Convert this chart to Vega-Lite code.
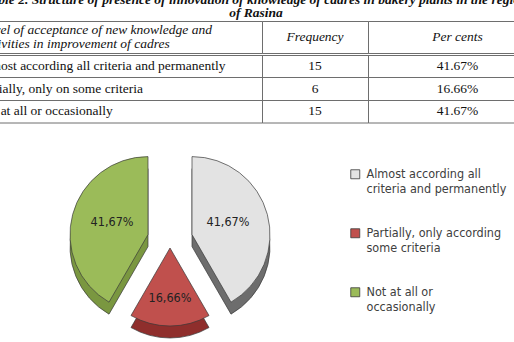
{
  "$schema": "https://vega.github.io/schema/vega-lite/v6.json",
  "padding": {"left": -28, "top": -7, "right": 0, "bottom": 0},
  "background": "white",
  "title": {
    "text": ["Table 2. Structure of presence of innovation of knowledge of cadres in bakery plants in the region", "of Rasina"],
    "font": "Liberation Serif", "fontSize": 13.5, "fontStyle": "italic", "fontWeight": "bold",
    "color": "#111111", "lineHeight": 13, "offset": 1, "anchor": "middle", "dx": -4
  },
  "config": {
    "view": {"stroke": "#6e6e6e", "strokeWidth": 1},
    "text": {"font": "Liberation Serif", "fontSize": 13.5, "color": "#111111"}
  },
  "datasets": {
    "header": [
      {"col": "indicator", "text": "Level of acceptance of new knowledge and\nactivities in improvement of cadres"},
      {"col": "frequency", "text": "Frequency"},
      {"col": "percent", "text": "Per cents"}
    ],
    "table": [
      {"row": 1, "indicator": "Almost according all criteria and permanently", "frequency": "15", "percent": "41.67%"},
      {"row": 2, "indicator": "Partially, only on some criteria", "frequency": "6", "percent": "16.66%"},
      {"row": 3, "indicator": "Not at all or occasionally", "frequency": "15", "percent": "41.67%"}
    ],
    "pie": [
      {"order": 1, "category": "Almost according all criteria and permanently", "frequency": 15, "label": "41,67%"},
      {"order": 2, "category": "Partially, only according some criteria", "frequency": 6, "label": "16,66%"},
      {"order": 3, "category": "Not at all or occasionally", "frequency": 15, "label": "41,67%"}
    ]
  },
  "spacing": 10,
  "vconcat": [
    {
      "spacing": 0,
      "vconcat": [
        {
          "spacing": 0,
          "bounds": "flush",
          "hconcat": [
            {
              "width": 289, "height": 32, "data": {"name": "header"},
              "transform": [{"filter": "datum.col == 'indicator'"}],
              "mark": {"type": "text", "align": "left", "baseline": "middle", "fontStyle": "italic", "lineBreak": "\n", "lineHeight": 14, "dx": 8, "dy": -7},
              "encoding": {"text": {"field": "text"}, "x": {"datum": 0, "scale": {"domain": [0, 1]}, "axis": null}}
            },
            {
              "width": 106, "height": 32, "data": {"name": "header"},
              "transform": [{"filter": "datum.col == 'frequency'"}],
              "mark": {"type": "text", "baseline": "middle", "fontStyle": "italic"},
              "encoding": {"text": {"field": "text"}, "x": {"datum": 0.5, "scale": {"domain": [0, 1]}, "axis": null}}
            },
            {
              "width": 179, "height": 32, "data": {"name": "header"},
              "transform": [{"filter": "datum.col == 'percent'"}],
              "mark": {"type": "text", "baseline": "middle", "fontStyle": "italic"},
              "encoding": {"text": {"field": "text"}, "x": {"datum": 0.5, "scale": {"domain": [0, 1]}, "axis": null}}
            }
          ]
        },
        {
          "spacing": 0,
          "bounds": "flush",
          "hconcat": [
            {
              "width": 289, "height": 67.5, "data": {"name": "table"},
              "mark": {"type": "text", "align": "left", "baseline": "middle", "dx": 4},
              "encoding": {
                "text": {"field": "indicator"},
                "x": {"datum": 0, "scale": {"domain": [0, 1]}, "axis": null},
                "y": {"field": "row", "type": "ordinal", "scale": {"type": "band", "paddingInner": 0, "paddingOuter": 0},
                  "axis": {"title": null, "labels": false, "ticks": false, "domain": false, "grid": true, "bandPosition": 0, "gridColor": "#6e6e6e", "gridOpacity": 1, "gridWidth": 1}}
              }
            },
            {
              "width": 106, "height": 67.5, "data": {"name": "table"},
              "mark": {"type": "text", "baseline": "middle"},
              "encoding": {
                "text": {"field": "frequency"},
                "x": {"datum": 0.5, "scale": {"domain": [0, 1]}, "axis": null},
                "y": {"field": "row", "type": "ordinal", "scale": {"type": "band", "paddingInner": 0, "paddingOuter": 0},
                  "axis": {"title": null, "labels": false, "ticks": false, "domain": false, "grid": true, "bandPosition": 0, "gridColor": "#6e6e6e", "gridOpacity": 1, "gridWidth": 1}}
              }
            },
            {
              "width": 179, "height": 67.5, "data": {"name": "table"},
              "mark": {"type": "text", "baseline": "middle"},
              "encoding": {
                "text": {"field": "percent"},
                "x": {"datum": 0.5, "scale": {"domain": [0, 1]}, "axis": null},
                "y": {"field": "row", "type": "ordinal", "scale": {"type": "band", "paddingInner": 0, "paddingOuter": 0},
                  "axis": {"title": null, "labels": false, "ticks": false, "domain": false, "grid": true, "bandPosition": 0, "gridColor": "#6e6e6e", "gridOpacity": 1, "gridWidth": 1}}
              }
            }
          ]
        }
      ]
    },
    {
      "width": 394, "height": 210,
      "view": {"stroke": null},
      "data": {"name": "pie"},
      "transform": [
        {"stack": "frequency", "groupby": [], "sort": [{"field": "order", "order": "ascending"}], "as": ["t0", "t1"]}
      ],
      "layer": [
        {
          "transform": [{"filter": "datum.order == 3"}],
          "mark": {"type": "arc", "radius": 78, "xOffset": -22, "yOffset": 8.6, "fill": "#7a9740", "stroke": "#3a3a3a", "strokeWidth": 0.7},
          "encoding": {
            "theta": {"field": "t0", "type": "quantitative", "scale": {"domain": [0, 36]}},
            "theta2": {"field": "t1"}
          }
        },
        {
          "transform": [{"filter": "datum.order == 1"}],
          "mark": {"type": "arc", "radius": 78, "xOffset": 22, "yOffset": 8.6, "fill": "#6d6d6d", "stroke": "#3a3a3a", "strokeWidth": 0.7},
          "encoding": {
            "theta": {"field": "t0", "type": "quantitative"},
            "theta2": {"field": "t1"}
          }
        },
        {
          "transform": [{"filter": "datum.order == 2"}],
          "mark": {"type": "arc", "radius": 78, "xOffset": 0, "yOffset": 22, "fill": "#8f2e2c", "stroke": "#3a3a3a", "strokeWidth": 0.7},
          "encoding": {
            "theta": {"field": "t0", "type": "quantitative"},
            "theta2": {"field": "t1"}
          }
        },
        {
          "transform": [{"filter": "datum.order == 1"}],
          "mark": {"type": "arc", "radius": 78, "xOffset": 22, "yOffset": -3.4, "stroke": "#3a3a3a", "strokeWidth": 0.7},
          "encoding": {
            "theta": {"field": "t0", "type": "quantitative"},
            "theta2": {"field": "t1"},
            "color": {"field": "category", "type": "nominal",
              "scale": {"domain": ["Almost according all criteria and permanently", "Partially, only according some criteria", "Not at all or occasionally"], "range": ["#e3e3e3", "#c0504d", "#9bbb59"]},
              "legend": {
                "title": null, "orient": "none", "legendX": 376, "legendY": 147, "padding": 0,
                "symbolType": "square", "symbolSize": 81, "symbolStrokeColor": "#444444", "symbolStrokeWidth": 0.8,
                "labelFont": "'Liberation Sans Narrow', 'DejaVu Sans Condensed', sans-serif", "labelFontSize": 12.5,
                "labelColor": "#404040", "labelLineHeight": 14, "labelOffset": 5, "rowPadding": 31, "labelLimit": 200,
                "labelExpr": "datum.label == 'Almost according all criteria and permanently' ? ['Almost according all', 'criteria and permanently'] : datum.label == 'Partially, only according some criteria' ? ['Partially, only according', 'some criteria'] : ['Not at all or', 'occasionally']"
              }}
          }
        },
        {
          "transform": [{"filter": "datum.order == 2"}],
          "mark": {"type": "arc", "radius": 78, "xOffset": 0, "yOffset": 10, "stroke": "#3a3a3a", "strokeWidth": 0.7},
          "encoding": {
            "theta": {"field": "t0", "type": "quantitative"},
            "theta2": {"field": "t1"},
            "color": {"field": "category", "type": "nominal"}
          }
        },
        {
          "transform": [{"filter": "datum.order == 3"}],
          "mark": {"type": "arc", "radius": 78, "xOffset": -22, "yOffset": -3.4, "stroke": "#3a3a3a", "strokeWidth": 0.7},
          "encoding": {
            "theta": {"field": "t0", "type": "quantitative"},
            "theta2": {"field": "t1"},
            "color": {"field": "category", "type": "nominal"}
          }
        },
        {
          "mark": {"type": "text", "radius": 60, "font": "'Liberation Sans Narrow', 'DejaVu Sans Condensed', sans-serif", "fontSize": 12.5, "color": "#222222"},
          "encoding": {
            "theta": {"field": "frequency", "type": "quantitative", "stack": true},
            "order": {"field": "order", "type": "quantitative"},
            "text": {"field": "label"}
          }
        }
      ]
    }
  ]
}
